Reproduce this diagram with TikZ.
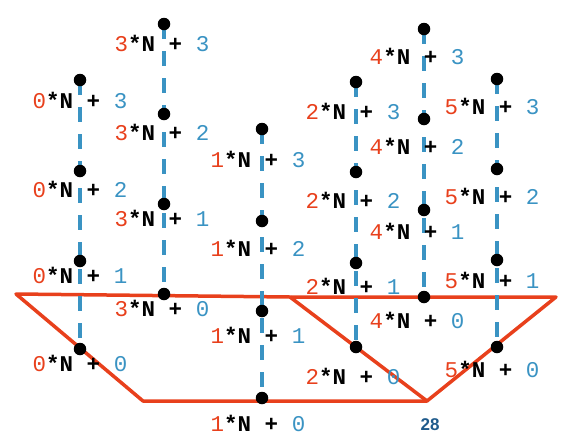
\documentclass[tikz,border=0pt]{standalone}
\usepackage{fontspec}
\setmonofont{Liberation Mono}
\newfontfamily\numfont{Liberation Sans}
\definecolor{cred}{HTML}{E8401C}
\definecolor{cblue}{HTML}{3A93C3}
\definecolor{cdark}{HTML}{1F5B8C}
\newcommand{\lab}[2]{\textcolor{cred}{#1}\textbf{*N~+~}\textcolor{cblue}{#2}}
\begin{document}
\begin{tikzpicture}[x=1pt,y=-1pt,
  dot/.style={circle,fill=black,inner sep=0pt,minimum size=12.5pt},
  lbl/.style={anchor=base,inner sep=0pt,font=\fontsize{22.5}{26}\selectfont\ttfamily},
  dline/.style={draw=cblue,line width=3.8pt,dash pattern=on 15pt off 12pt},
  rline/.style={draw=cred,line width=3.5pt,line join=round}]
\useasboundingbox (0,0) rectangle (562,445);
% red trapezoids
\coordinate (tl) at (16,294);
\coordinate (tm) at (290,297);
\coordinate (tr) at (556,297);
\coordinate (bl) at (143,401);
\coordinate (bv) at (427,401);
\draw[rline] (tl) -- (tm) -- (tr) -- (bv) -- (bl) -- cycle;
\draw[rline] (tm) -- (bv);
% dots
\foreach \c/\x/\ya/\yb/\yc/\yd in {a/80/80/171/261/349, d/164/24/114/204/294, b/262/129/221/311/398, c/356/82/172/263/347, e/424/29/119/210/297, f/497/79/169/260/347}{
  \coordinate (\c3) at (\x,\ya);
  \coordinate (\c0) at (\x,\yd);
  \draw[dline] (\c3) -- (\c0);
}
\foreach \c/\x/\ya/\yb/\yc/\yd in {a/80/80/171/261/349, d/164/24/114/204/294, b/262/129/221/311/398, c/356/82/172/263/347, e/424/29/119/210/297, f/497/79/169/260/347}{
  \node[dot] (\c3n) at (\x,\ya) {};
  \node[dot] (\c2n) at (\x,\yb) {};
  \node[dot] (\c1n) at (\x,\yc) {};
  \node[dot] (\c0n) at (\x,\yd) {};
}
% labels
\foreach \k/\x/\ya/\yb/\yc/\yd in {0/80/100.5/190/275.5/364, 3/162/44/133/219/309, 1/258/160/249/336/424, 2/353/112/201/287/377, 4/417/57/147/232/321, 5/492/107/197/281/370}{
  \node[lbl] (l\k3) at (\x,\ya+7.5) {\lab{\k}{3}};
  \node[lbl] (l\k2) at (\x,\yb+7.5) {\lab{\k}{2}};
  \node[lbl] (l\k1) at (\x,\yc+7.5) {\lab{\k}{1}};
  \node[lbl] (l\k0) at (\x,\yd+7.5) {\lab{\k}{0}};
}
\node[text=cdark,font=\fontsize{17}{20}\selectfont\numfont\bfseries,inner sep=0pt] (n28) at (430,425) {28};
\end{tikzpicture}
\end{document}
